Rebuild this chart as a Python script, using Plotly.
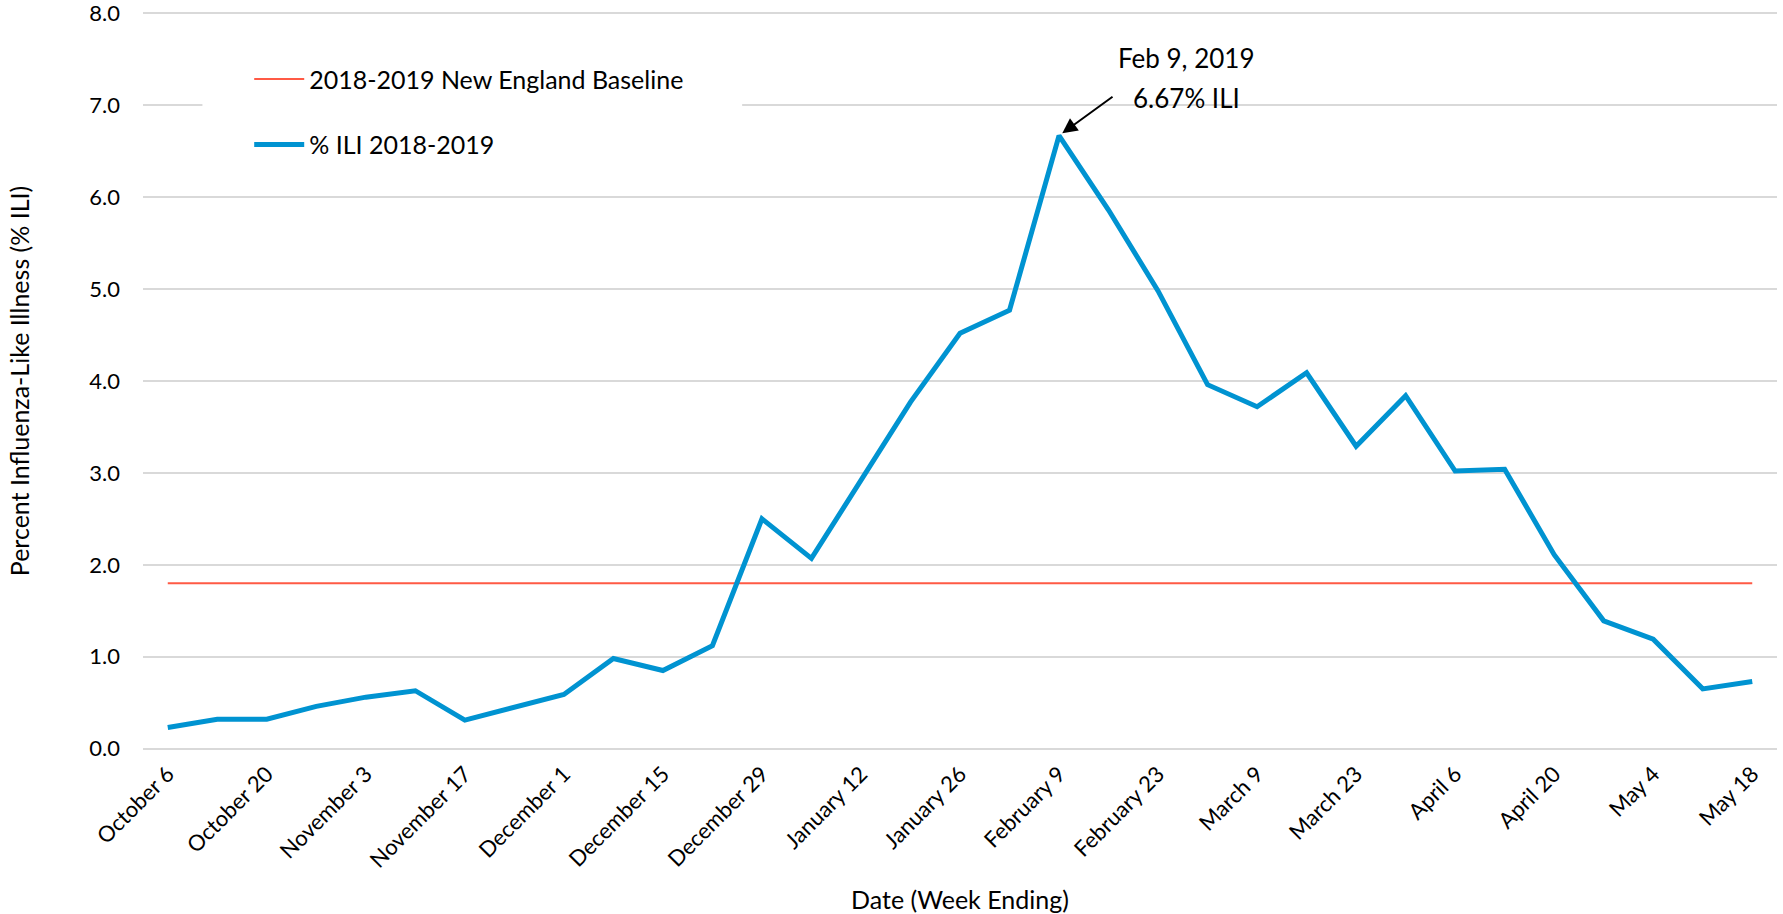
import plotly.graph_objects as go

# weekly data, 2018-2019 season (week ending)
weeks = [
    "October 6", "October 13", "October 20", "October 27", "November 3",
    "November 10", "November 17", "November 24", "December 1", "December 8",
    "December 15", "December 22", "December 29", "January 5", "January 12",
    "January 19", "January 26", "February 2", "February 9", "February 16",
    "February 23", "March 2", "March 9", "March 16", "March 23", "March 30",
    "April 6", "April 13", "April 20", "April 27", "May 4", "May 11", "May 18",
]
ili_pct = [
    0.23, 0.32, 0.32, 0.46, 0.56, 0.63, 0.31, 0.45, 0.59, 0.98, 0.85,
    1.12, 2.50, 2.07, 2.93, 3.77, 4.52, 4.77, 6.67, 5.86, 4.98, 3.96,
    3.72, 4.09, 3.29, 3.84, 3.02, 3.04, 2.11, 1.39, 1.19, 0.65, 0.73,
]
baseline = 1.8
tick_labels = weeks[::2]

peak_i = ili_pct.index(max(ili_pct))
peak_week = weeks[peak_i]
peak_val = ili_pct[peak_i]

FONT = "Lato, 'Open Sans', sans-serif"
BLUE = "#0093D1"
RED = "#FF5A45"

fig = go.Figure()
fig.add_trace(go.Scatter(
    x=weeks, y=[baseline] * len(weeks), mode="lines",
    name="2018-2019 New England Baseline", legendgroup="a",
    line=dict(color=RED, width=2),
))
fig.add_trace(go.Scatter(
    x=weeks, y=ili_pct, mode="lines",
    name="% ILI 2018-2019", legendgroup="b",
    line=dict(color=BLUE, width=5),
))

# arrow to the peak
fig.add_annotation(
    x=peak_week, y=peak_val, text="", showarrow=True,
    ax=55, ay=-40, standoff=4,
    arrowhead=2, arrowsize=1.5, arrowwidth=2, arrowcolor="black",
)
fig.add_annotation(
    x=peak_week, y=peak_val, text="Feb 9, 2019", showarrow=False,
    xshift=127, yshift=78, font=dict(size=26, color="black", family=FONT),
)
fig.add_annotation(
    x=peak_week, y=peak_val, text=f"{peak_val:.2f}% ILI", showarrow=False,
    xshift=127, yshift=38, font=dict(size=26, color="black", family=FONT),
)

# white legend box area (hides the gridline behind the legend, as in the original)
fig.add_shape(
    type="rect", xref="x", yref="y",
    x0=0.7, x1=11.6, y0=6.5, y1=7.6,
    fillcolor="white", line=dict(width=0), layer="between",
)

fig.update_layout(
    width=1783, height=914,
    margin=dict(l=143, r=6, t=12, b=164),
    paper_bgcolor="white", plot_bgcolor="white",
    font=dict(family=FONT, color="black", size=22),
    legend=dict(
        x=0.065, y=0.94, xanchor="left", yanchor="top",
        bgcolor="rgba(0,0,0,0)", font=dict(size=25), tracegroupgap=30,
        traceorder="grouped", itemwidth=50,
    ),
    xaxis=dict(
        type="category", range=[-0.5, len(weeks) - 0.5],
        tickmode="array", tickvals=tick_labels, ticktext=tick_labels,
        tickangle=-45, showgrid=False, showline=False, zeroline=False,
        ticks="", ticklabelstandoff=6, tickfont=dict(size=22),
        title=dict(text="Date (Week Ending)", font=dict(size=25), standoff=30),
        automargin=False,
    ),
    yaxis=dict(
        # a hair of padding so the 0.0 and 8.0 gridlines are drawn too
        range=[-0.015, 8.015], tick0=0, dtick=1, tickformat=".1f",
        showgrid=True, gridcolor="#D9D9D9", gridwidth=1.5,
        zeroline=False, showline=False, ticks="", ticklabelstandoff=22,
        tickfont=dict(size=22), ticklabeloverflow="allow",
        title=dict(text="Percent Influenza-Like Illness (% ILI)", font=dict(size=25), standoff=52),
        automargin=False,
    ),
)

fig.write_html(
    "out.html",
    config={"displayModeBar": False},
    post_script="document.body.style.margin='0';",
)
